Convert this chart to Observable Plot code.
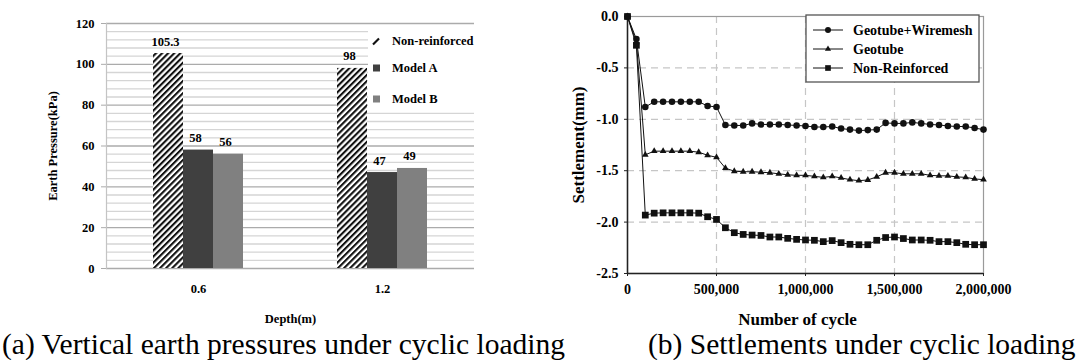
<!DOCTYPE html>
<html><head><meta charset="utf-8">
<script src="https://cdn.jsdelivr.net/npm/d3@7"></script>
<script src="https://cdn.jsdelivr.net/npm/@observablehq/plot@0.6"></script>
<style>
html,body{margin:0;padding:0;background:#fff;}
#root{position:relative;width:1078px;height:360px;overflow:hidden;font-family:"Liberation Serif","Times New Roman",serif;}
.chart{position:absolute;top:0;}
.overlay{position:absolute;}
.caption{position:absolute;top:330px;font-size:29.5px;line-height:29px;white-space:nowrap;color:#000;}
</style></head><body><div id="root"></div>
<script>
// ---------- (a) earth pressure data ----------
const depths = ["0.6", "1.2"];
const pressureSeries = ["Non-reinforced", "Model A", "Model B"];
const pressureAt06 = [105.3, 58, 56];
const pressureAt12 = [98, 47, 49];
const pressureTicks = [0, 20, 40, 60, 80, 100, 120];

// ---------- (b) settlement data ----------
const settlementSeries = ["Geotube+Wiremesh", "Geotube", "Non-Reinforced"];
const cycles = [0, 50000, 100000, 150000, 200000, 250000, 300000, 350000, 400000, 450000,
  500000, 550000, 600000, 650000, 700000, 750000, 800000, 850000, 900000, 950000,
  1000000, 1050000, 1100000, 1150000, 1200000, 1250000, 1300000, 1350000, 1400000, 1450000,
  1500000, 1550000, 1600000, 1650000, 1700000, 1750000, 1800000, 1850000, 1900000, 1950000, 2000000];
const geotubeWiremesh = [0, -0.22, -0.88, -0.83, -0.83, -0.83, -0.83, -0.83, -0.83, -0.87,
  -0.88, -1.055, -1.06, -1.06, -1.04, -1.05, -1.05, -1.05, -1.055, -1.06,
  -1.065, -1.075, -1.075, -1.07, -1.09, -1.10, -1.11, -1.105, -1.10, -1.035,
  -1.04, -1.04, -1.03, -1.04, -1.05, -1.055, -1.065, -1.07, -1.07, -1.085, -1.10];
const geotube = [0, -0.25, -1.345, -1.31, -1.31, -1.31, -1.31, -1.31, -1.32, -1.35,
  -1.37, -1.475, -1.505, -1.51, -1.51, -1.515, -1.52, -1.53, -1.54, -1.545,
  -1.545, -1.555, -1.565, -1.555, -1.57, -1.587, -1.597, -1.59, -1.56, -1.52,
  -1.52, -1.53, -1.53, -1.53, -1.545, -1.55, -1.55, -1.56, -1.565, -1.58, -1.587];
const nonReinforced = [0, -0.28, -1.932, -1.913, -1.91, -1.91, -1.91, -1.91, -1.913, -1.948,
  -1.974, -2.055, -2.103, -2.12, -2.126, -2.13, -2.145, -2.145, -2.158, -2.168,
  -2.174, -2.177, -2.19, -2.18, -2.2, -2.216, -2.22, -2.22, -2.177, -2.15,
  -2.145, -2.16, -2.174, -2.174, -2.177, -2.19, -2.19, -2.2, -2.216, -2.22, -2.22];
const cycleTicks = [0, 500000, 1000000, 1500000, 2000000];
const settlementTicks = [0, -0.5, -1, -1.5, -2, -2.5];

const FONT = '"Liberation Serif", "Times New Roman", serif';
const root = document.getElementById("root");

// ---------- chart (a) ----------
const pressureRows = depths.flatMap((dep, i) =>
  pressureSeries.map((s, j) => ({depth: dep, series: s, value: (i === 0 ? pressureAt06 : pressureAt12)[j]})));
const minorTicks = d3.range(0, 121, 4).filter(v => !pressureTicks.includes(v));

const chartA = Plot.plot({
  width: 480, height: 330,
  marginLeft: 105, marginRight: 6, marginTop: 23, marginBottom: 62,
  style: {fontFamily: FONT, fontWeight: "bold", fontSize: "12.5px", background: "transparent", overflow: "visible", color: "#000"},
  fx: {domain: depths, padding: 0},
  x: {domain: pressureSeries, paddingInner: 0, paddingOuter: 1.5, axis: null},
  y: {domain: [0, 120]},
  color: {domain: pressureSeries, range: ["url(#hatch)", "#404040", "#808080"]},
  marks: [
    Plot.ruleY(minorTicks, {stroke: "#d5d5d5", strokeWidth: 1.3}),
    Plot.ruleY(pressureTicks, {stroke: "#ababab", strokeWidth: 1.3}),
    Plot.frame({anchor: "left", facet: "super", stroke: "#c4c4c4", strokeWidth: 1.2}),
    Plot.axisY({ticks: pressureTicks, tickSize: 5, tickPadding: 7, stroke: "#ababab", fill: "#000",
      label: "Earth Pressure(kPa)", labelAnchor: "center", labelOffset: 58, labelArrow: "none"}),
    Plot.axisFx({anchor: "bottom", tickSize: 0, tickPadding: 16, label: "Depth(m)", labelAnchor: "center", labelOffset: 54, labelArrow: "none"}),
    Plot.barY(pressureRows, {fx: "depth", x: "series", y: "value", fill: "series"}),
    Plot.text(pressureRows, {fx: "depth", x: "series", y: "value", text: d => String(d.value), dy: -12, dx: -3, fontSize: 12.5})
  ]
});
// hatch pattern definition
const defs = d3.select(chartA).insert("defs", ":first-child");
const pat = defs.append("pattern").attr("id", "hatch").attr("patternUnits", "userSpaceOnUse")
  .attr("width", 4.3).attr("height", 4.3).attr("patternTransform", "rotate(45)");
pat.append("rect").attr("width", 4.3).attr("height", 4.3).attr("fill", "#fff");
pat.append("rect").attr("width", 2.1).attr("height", 4.3).attr("fill", "#111");
chartA.classList.add("chart");
chartA.style.left = "0px";
root.appendChild(chartA);

// legend (a)
const legA = d3.select(root).append("svg").attr("class", "overlay")
  .style("left", "368px").style("top", "28px").attr("width", 108).attr("height", 82);
legA.append("rect").attr("width", 108).attr("height", 82).attr("fill", "#fff");
const legAItems = [
  {label: pressureSeries[0], y: 13},
  {label: pressureSeries[1], y: 40},
  {label: pressureSeries[2], y: 71}
];
legAItems.forEach((it, i) => {
  if (i === 0) {
    legA.append("line").attr("x1", 5).attr("y1", it.y + 3.5).attr("x2", 11).attr("y2", it.y - 2.5)
      .attr("stroke", "#111").attr("stroke-width", 2.2);
  } else {
    legA.append("rect").attr("x", 5).attr("y", it.y - 3.5).attr("width", 7).attr("height", 7)
      .attr("fill", i === 1 ? "#404040" : "#808080");
  }
  legA.append("text").attr("x", 24).attr("y", it.y).attr("dy", "0.35em")
    .attr("font-family", FONT).attr("font-weight", "bold").attr("font-size", 12.5).text(it.label);
});

// ---------- chart (b) ----------
const seriesValues = [geotubeWiremesh, geotube, nonReinforced];
const settlementRows = settlementSeries.flatMap((s, i) =>
  seriesValues[i].map((v, k) => ({series: s, cycle: cycles[k], value: v})));
const symbols = ["circle", "triangle", "square"];
const radii = [3.3, 2.5, 3.8];

const chartB = Plot.plot({
  width: 558, height: 330,
  marginLeft: 107, marginRight: 95, marginTop: 16, marginBottom: 57,
  style: {fontFamily: FONT, fontWeight: "bold", fontSize: "14px", background: "transparent", overflow: "visible", color: "#000"},
  x: {domain: [0, 2000000]},
  y: {domain: [-2.5, 0]},
  marks: [
    Plot.gridX(cycleTicks.slice(1, -1), {stroke: "#c6c6c6", strokeOpacity: 1, strokeWidth: 1.2, strokeDasharray: "7,5"}),
    Plot.gridY(settlementTicks.slice(1, -1), {stroke: "#c6c6c6", strokeOpacity: 1, strokeWidth: 1.2, strokeDasharray: "7,5"}),
    Plot.frame({stroke: "#9a9a9a", strokeWidth: 1.2}),
    Plot.ruleX([0], {stroke: "#222", strokeWidth: 1.5}),
    Plot.ruleY([-2.5], {stroke: "#222", strokeWidth: 1.5}),
    Plot.axisX({ticks: cycleTicks, tickFormat: d3.format(","), tickSize: 3, tickPadding: 8, label: null, stroke: "#222", fill: "#000"}),
    Plot.axisY({ticks: settlementTicks, tickFormat: d => d.toFixed(1), tickSize: 3, tickPadding: 6, label: null, stroke: "#222", fill: "#000"}),
    Plot.text(["Number of cycle"], {frameAnchor: "bottom", dy: 46, dx: -8, fontSize: 17, textAnchor: "middle", lineAnchor: "middle"}),
    Plot.text(["Settlement(mm)"], {frameAnchor: "left", dx: -49, rotate: -90, fontSize: 17, textAnchor: "middle", lineAnchor: "middle"}),
    Plot.line(settlementRows, {x: "cycle", y: "value", z: "series", stroke: "#111", strokeWidth: 1}),
    ...settlementSeries.map((s, i) =>
      Plot.dot(settlementRows.filter(d => d.series === s), {x: "cycle", y: "value", symbol: symbols[i], r: radii[i], fill: "#111", stroke: "none"}))
  ]
});
chartB.classList.add("chart");
chartB.style.left = "520px";
root.appendChild(chartB);

// legend (b)
const legB = d3.select(root).append("svg").attr("class", "overlay")
  .style("left", "805px").style("top", "14px").attr("width", 176).attr("height", 70);
legB.append("rect").attr("x", 1).attr("y", 1).attr("width", 173).attr("height", 67)
  .attr("fill", "#fff").attr("stroke", "#555").attr("stroke-width", 1.3);
settlementSeries.forEach((s, i) => {
  const y = 16 + i * 19;
  legB.append("line").attr("x1", 8).attr("x2", 38).attr("y1", y).attr("y2", y).attr("stroke", "#111");
  const sym = i === 0 ? d3.symbolCircle : i === 1 ? d3.symbolTriangle : d3.symbolSquare;
  const r = [3.0, 2.3, 3.2][i];
  legB.append("path").attr("transform", `translate(23,${y})`)
    .attr("d", d3.symbol(sym, Math.PI * r * r)()).attr("fill", "#111");
  legB.append("text").attr("x", 48).attr("y", y).attr("dy", "0.35em")
    .attr("font-family", FONT).attr("font-weight", "bold").attr("font-size", 14).text(s);
});

// captions
const capA = document.createElement("div");
capA.className = "caption"; capA.style.left = "2px";
capA.textContent = "(a) Vertical earth pressures under cyclic loading";
root.appendChild(capA);
const capB = document.createElement("div");
capB.className = "caption"; capB.style.left = "648px";
capB.textContent = "(b) Settlements under cyclic loading";
root.appendChild(capB);
</script>
</body></html>
